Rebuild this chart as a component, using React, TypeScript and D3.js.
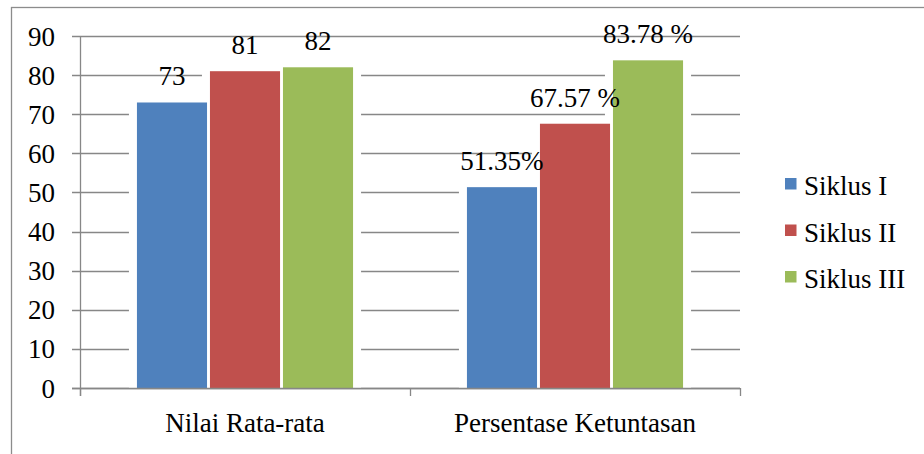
import React from "react";
import * as d3 from "d3";

const categories = ["Nilai Rata-rata", "Persentase Ketuntasan"];
const seriesNames = ["Siklus I", "Siklus II", "Siklus III"];
const siklusI = [73, 51.35];
const siklusII = [81, 67.57];
const siklusIII = [82, 83.78];
const labelsI = ["73", "51.35%"];
const labelsII = ["81", "67.57 %"];
const labelsIII = ["82", "83.78 %"];
const yTicks = [0, 10, 20, 30, 40, 50, 60, 70, 80, 90];
const colors = ["#4F81BD", "#C0504D", "#9BBB59"];

const W = 924;
const H = 454;
const FS = 27;
const FAMILY = "Times New Roman";

function T(props: any) {
  const { children, ...rest } = props;
  return (
    <text fontFamily={FAMILY} fontSize={FS} style={{ fontFamily: FAMILY, fontSize: FS + "px" }} fill="#000" {...rest}>
      {children}
    </text>
  );
}

export default function App() {
  const plotLeft = 80;
  const plotRight = 740;
  const plotTop = 36;
  const plotBottom = 388;

  const y = d3.scaleLinear().domain([0, 90]).range([plotBottom, plotTop]);
  const x0 = d3.scaleBand<string>().domain(categories).range([plotLeft, plotRight]).padding(0);
  const x1 = d3
    .scaleBand<string>()
    .domain(seriesNames)
    .range([0, x0.bandwidth()])
    .paddingInner(0.04)
    .paddingOuter(0.78);

  const values = [siklusI, siklusII, siklusIII];
  const labels = [labelsI, labelsII, labelsIII];

  const bars = categories.flatMap((c, ci) =>
    seriesNames.map((s, si) => {
      const bx = (x0(c) ?? 0) + (x1(s) ?? 0);
      const v = values[si][ci];
      return {
        key: c + s,
        x: bx,
        w: x1.bandwidth(),
        y: y(v),
        h: y(0) - y(v),
        color: colors[si],
        label: labels[si][ci],
      };
    })
  );

  const gridColor = "#878787";
  const boundaries = [plotLeft, ...categories.map((c) => (x0(c) ?? 0) + x0.bandwidth())];

  return (
    <div style={{ position: "absolute", left: 0, top: 0, width: W, height: H, fontFamily: FAMILY }}>
      <svg width={W} height={H} style={{ display: "block", background: "#fff" }}>
        <rect x={0} y={0} width={W} height={H} fill="#fff" />
        <rect x={11.5} y={7.5} width={W + 10} height={H + 10} fill="none" stroke="#8c8c8c" strokeWidth={1.3} />

        {yTicks.map((t) => (
          <line
            key={"g" + t}
            x1={plotLeft - 8}
            x2={plotRight}
            y1={Math.round(y(t)) + 0.5}
            y2={Math.round(y(t)) + 0.5}
            stroke={gridColor}
            strokeWidth={1.3}
          />
        ))}

        {bars.map((b) => (
          <rect key={"h" + b.key} x={b.x - 8} y={b.y - 6} width={b.w + 16} height={b.h + 6} fill="#fff" />
        ))}

        {bars.map((b) => (
          <rect key={"b" + b.key} x={b.x} y={b.y} width={b.w} height={b.h} fill={b.color} />
        ))}

        <line x1={plotLeft + 0.5} x2={plotLeft + 0.5} y1={plotTop} y2={plotBottom + 8} stroke={gridColor} strokeWidth={1.3} />
        <line x1={plotLeft - 8} x2={plotRight} y1={plotBottom + 0.5} y2={plotBottom + 0.5} stroke={gridColor} strokeWidth={1.3} />
        {boundaries.map((bx, i) => (
          <line key={"xt" + i} x1={bx + 0.5} x2={bx + 0.5} y1={plotBottom} y2={plotBottom + 8} stroke={gridColor} strokeWidth={1.3} />
        ))}

        {yTicks.map((t) => (
          <T key={"yl" + t} x={55} y={y(t) + 9.5} textAnchor="end">
            {t}
          </T>
        ))}

        {categories.map((c) => (
          <T key={"xl" + c} x={(x0(c) ?? 0) + x0.bandwidth() / 2} y={431.5} textAnchor="middle">
            {c}
          </T>
        ))}

        {bars.map((b) => (
          <T key={"vl" + b.key} x={b.x + b.w / 2} y={b.y - 17} textAnchor="middle">
            {b.label}
          </T>
        ))}

        {seriesNames.map((s, i) => {
          const base = 195 + i * 46.5;
          return (
            <g key={"lg" + s}>
              <rect x={785} y={base - 17} width={11.5} height={11.5} fill={colors[i]} />
              <T x={804} y={base}>
                {s}
              </T>
            </g>
          );
        })}
      </svg>
    </div>
  );
}
